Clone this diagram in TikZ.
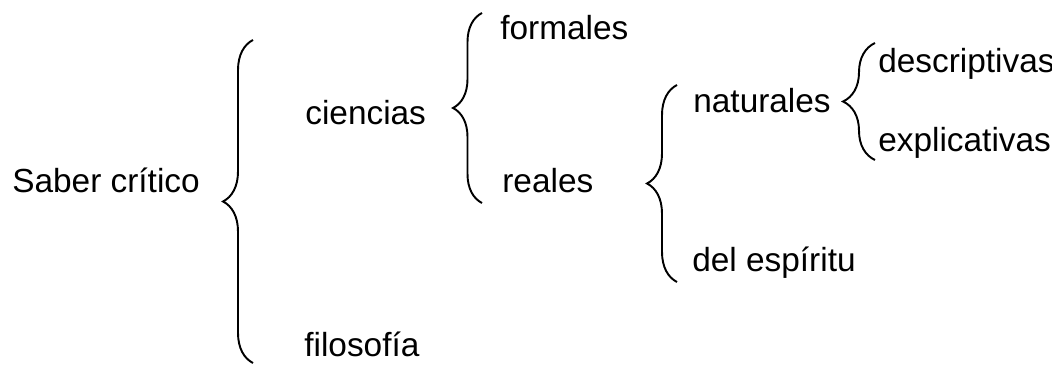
\documentclass[tikz,border=0pt]{standalone}
\usepackage{fontspec}
\setmainfont{Liberation Sans}
\usetikzlibrary{decorations.pathreplacing}

\tikzset{
  label/.style={anchor=base west, inner sep=0pt, font=\fontsize{19}{23}\selectfont},
  bracket/.style={decorate, decoration={brace, amplitude=#1}, line width=1.1pt}
}

\begin{document}
\begin{tikzpicture}[x=0.02cm, y=-0.02cm]
  \useasboundingbox (0,0) rectangle (1052,367);

  % Words of the tree
  \node[label] (saber) at (12,193) {Saber crítico};
  \node[label] (ciencias) at (305,125) {ciencias};
  \node[label] (filosofia) at (304,357) {filosofía};
  \node[label] (formales) at (500,40) {formales};
  \node[label] (reales) at (502,193) {reales};
  \node[label] (naturales) at (693,113) {naturales};
  \node[label] (espiritu) at (692,272) {del espíritu};
  \node[label] (descriptivas) at (878,73) {descriptivas};
  \node[label] (explicativas) at (878,152) {explicativas};

  % Ends of the braces
  \coordinate (b1top) at (253,40);
  \coordinate (b1bot) at (253,363);
  \coordinate (b2top) at (482,13);
  \coordinate (b2bot) at (482,203);
  \coordinate (b3top) at (677,85);
  \coordinate (b3bot) at (677,282);
  \coordinate (b4top) at (875,43);
  \coordinate (b4bot) at (875,160);

  % Draw the braces
  \draw[bracket=0.6cm] (b1bot) -- (b1top);
  \draw[bracket=0.58cm] (b2bot) -- (b2top);
  \draw[bracket=0.6cm] (b3bot) -- (b3top);
  \draw[bracket=0.64cm] (b4bot) -- (b4top);

\end{tikzpicture}
\end{document}
